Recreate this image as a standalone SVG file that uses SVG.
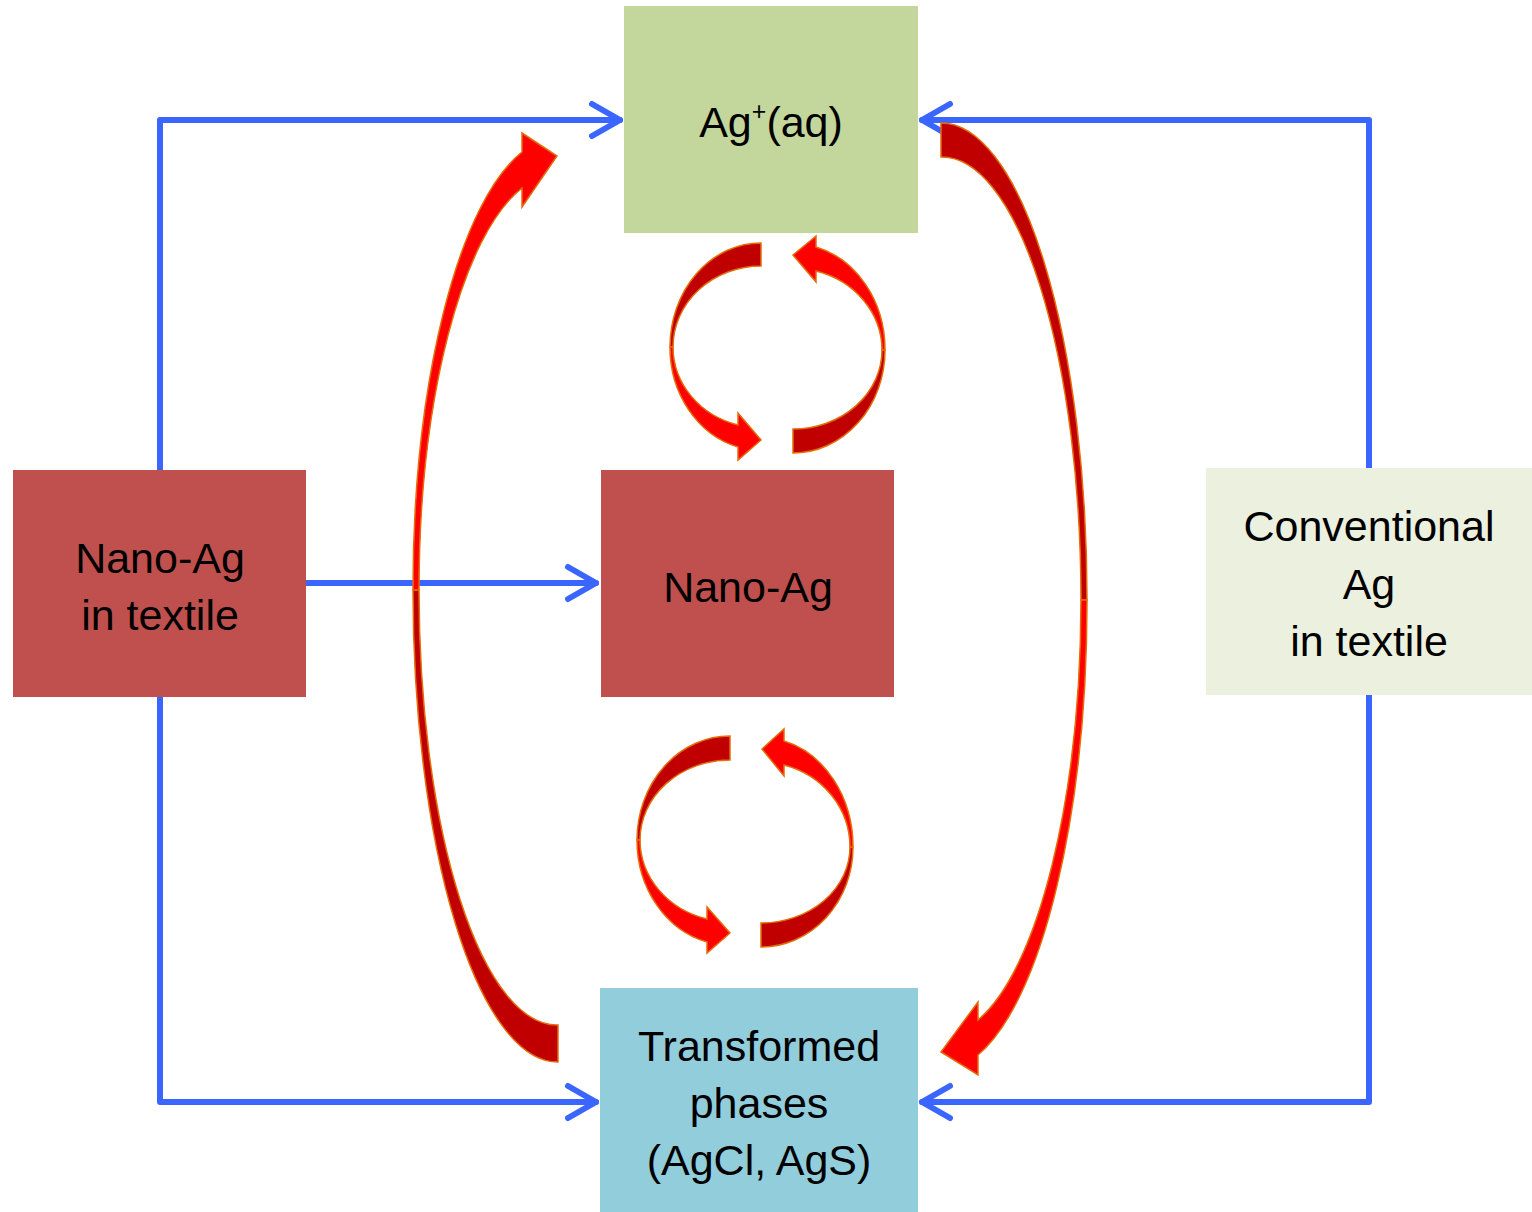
<svg xmlns="http://www.w3.org/2000/svg" width="1532" height="1212" viewBox="0 0 1532 1212">
<style>
.lbl{font-family:"Liberation Sans",Arial,sans-serif;font-size:43px;fill:#000;text-anchor:middle}
.blue{fill:none;stroke:#3A66FF;stroke-width:6;stroke-linecap:round;stroke-linejoin:round}
.lt{fill:#FF0000;stroke:#E46C0A;stroke-width:1.5;stroke-linejoin:miter}
.dk{fill:#C00000;stroke:#E46C0A;stroke-width:1.5;stroke-linejoin:miter}
</style>
<rect width="1532" height="1212" fill="#fff"/>
<g id="connectors">
  <polyline class="blue" points="160,470 160,120 620,120"/>
  <polyline class="blue" points="592,104 620,120 592,136"/>
  <polyline class="blue" points="160,697 160,1102 596,1102"/>
  <polyline class="blue" points="568,1086 596,1102 568,1118"/>
  <polyline class="blue" points="306,583 596,583"/>
  <polyline class="blue" points="568,567 596,583 568,599"/>
  <polyline class="blue" points="1369,468 1369,120 922,120"/>
  <polyline class="blue" points="950,104 922,120 950,136"/>
  <polyline class="blue" points="1369,695 1369,1102 922,1102"/>
  <polyline class="blue" points="950,1086 922,1102 950,1118"/>
  <path class="dk" d="M413,590 A145,472 0 0 0 558,1062 L558,1025 A138,435 0 0 1 419,590 Z"/>
  <path class="lt" d="M413,590 A145,452 0 0 1 522,152 L522,133 L557,156 L522,207 L522,188 A138,416 0 0 0 419,590 Z"/>
  <path class="dk" d="M1087,600 A146,477 0 0 0 941,123 L941,157 A139,443 0 0 1 1081,600 Z"/>
  <path class="lt" d="M1087,600 A146,470 0 0 1 978,1055 L978,1075 L941,1052 L978,1002 L978,1020 A139,436 0 0 0 1081,600 Z"/>
  <path class="dk" d="M670,347 A91,104 0 0 1 761,243 L761,266 A88,81 0 0 0 673,347 Z"/>
  <path class="lt" d="M670,347 A91,103 0 0 0 738,447 L738,460 L761,440 L738,413 L738,425 A88,81 0 0 1 673,347 Z"/>
  <path class="dk" d="M885,350 A92,103 0 0 1 793,453 L793,429 A89,79 0 0 0 882,350 Z"/>
  <path class="lt" d="M885,350 A92,106 0 0 0 816,247 L816,236 L793,255 L816,282 L816,271 A89,82 0 0 1 882,350 Z"/>
  <path class="dk" d="M637,840 A93,104 0 0 1 730,736 L730,760 A90,80 0 0 0 640,840 Z"/>
  <path class="lt" d="M637,840 A93,105 0 0 0 707,942 L707,953 L730,933 L707,907 L707,919 A90,82 0 0 1 640,840 Z"/>
  <path class="dk" d="M853,847 A92,100 0 0 1 761,947 L761,923 A89,76 0 0 0 850,847 Z"/>
  <path class="lt" d="M853,847 A92,109.5 0 0 0 784,741 L784,729 L762,749 L784,776 L784,765 A89,85 0 0 1 850,847 Z"/>
</g>
<g id="node-agaq">
  <rect x="624" y="6" width="294" height="227" fill="#C3D69B"/>
  <text class="lbl" x="771" y="137">Ag<tspan font-size="25" dy="-17">+</tspan><tspan dy="17">(aq)</tspan></text>
</g>
<g id="node-nano-textile">
  <rect x="13" y="470" width="293" height="227" fill="#C0504D"/>
  <text class="lbl" x="160" y="573">Nano-Ag</text>
  <text class="lbl" x="160" y="630">in textile</text>
</g>
<g id="node-nano">
  <rect x="601" y="470" width="293" height="227" fill="#C0504D"/>
  <text class="lbl" x="748" y="602">Nano-Ag</text>
</g>
<g id="node-conventional">
  <rect x="1206" y="468" width="326" height="227" fill="#EBF1DE"/>
  <text class="lbl" x="1369" y="541">Conventional</text>
  <text class="lbl" x="1369" y="599">Ag</text>
  <text class="lbl" x="1369" y="656">in textile</text>
</g>
<g id="node-transformed">
  <rect x="600" y="988" width="318" height="224" fill="#92CDDC"/>
  <text class="lbl" x="759" y="1061">Transformed</text>
  <text class="lbl" x="759" y="1118">phases</text>
  <text class="lbl" x="759" y="1175">(AgCl, AgS)</text>
</g>
</svg>
